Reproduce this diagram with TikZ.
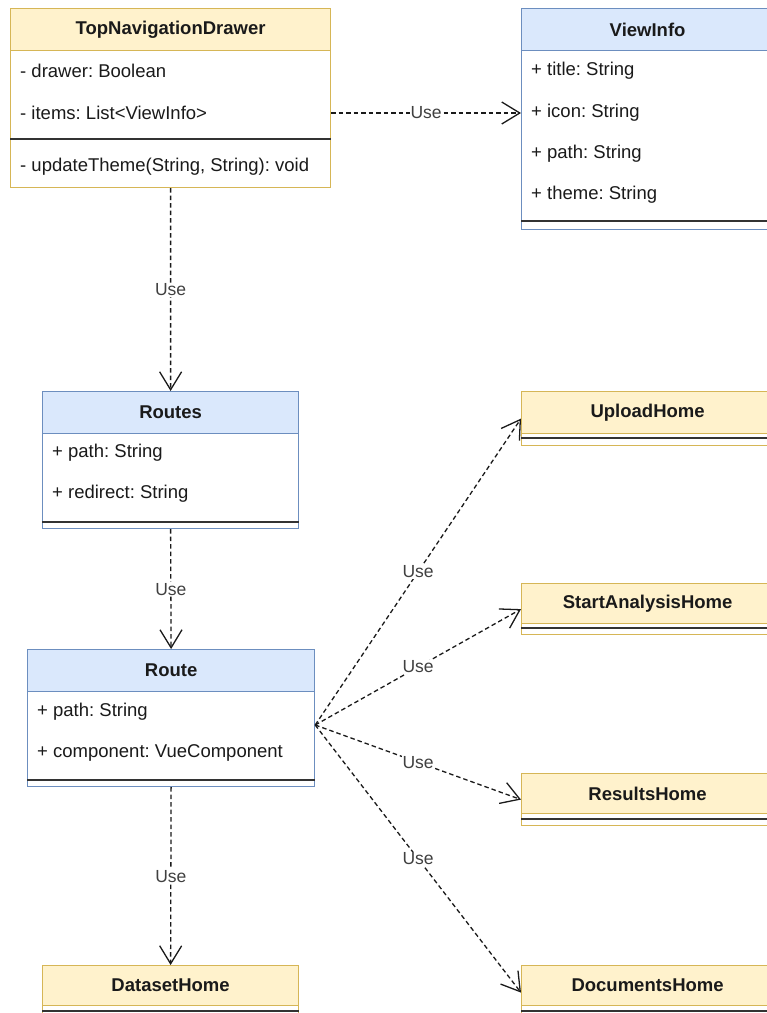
\documentclass[tikz,border=0pt]{standalone}
\usepackage{fontspec}
\setmainfont{Liberation Sans}
\usetikzlibrary{arrows.meta}

\definecolor{ylwfill}{HTML}{FFF2CC}
\definecolor{ylwline}{HTML}{D6B656}
\definecolor{blufill}{HTML}{DAE8FC}
\definecolor{bluline}{HTML}{6C8EBF}
\definecolor{ink}{HTML}{1A1A1A}

\tikzset{
  every node/.style={font=\fontsize{18.5bp}{22bp}\selectfont\frenchspacing, text=ink},
  classbody/.style={draw, fill=white, line width=1.2bp, rectangle, anchor=north west, inner sep=0pt},
  yellowbox/.style={draw=ylwline},
  bluebox/.style={draw=bluline},
  header/.style={rectangle, anchor=north west, inner sep=0pt, minimum height=42bp,
    font=\fontsize{18.5bp}{22bp}\selectfont\bfseries, line width=1.2bp},
  yhead/.style={header, draw=ylwline, fill=ylwfill},
  bhead/.style={header, draw=bluline, fill=blufill},
  member/.style={anchor=west, inner sep=0pt},
  divider/.style={line width=1.6bp, draw=black!80},
  uses/.style={draw=ink, line width=1.3bp, dash pattern=on 4.5bp off 3bp,
    -{Straight Barb[length=18bp,width=22bp,line width=1.3bp]}},
  uselabel/.style={fill=white, inner sep=1bp, font=\fontsize{17.5bp}{21bp}\selectfont, text=black!75},
}

\begin{document}
\begin{tikzpicture}[x=1bp,y=-1bp]
\useasboundingbox (0,0) rectangle (767,1013);
\fill[white] (0,0) rectangle (767,1013);

% TopNavigationDrawer
\node[classbody, yellowbox, minimum width=320bp, minimum height=179bp] (tnd) at (10,8) {};
\node[yhead, minimum width=320bp] (tndh) at (10,8) {TopNavigationDrawer};
\node[member] (tnd1) at (20,71) {- drawer: Boolean};
\node[member] (tnd2) at (20,113) {- items: List<ViewInfo>};
\coordinate (tndsep) at (0,139);
\draw[divider] (tnd.west |- tndsep) -- (tnd.east |- tndsep);
\node[member] (tnd3) at (20,167) {- updateTheme(String, String): void};

% ViewInfo (runs past the right edge of the page)
\node[classbody, bluebox, minimum width=252bp, minimum height=221bp] (vi) at (521,8) {};
\node[bhead, minimum width=252bp] (vih) at (521,8) {ViewInfo};
\node[member] (vi1) at (531,71) {+ title: String};
\node[member] (vi2) at (531,113) {+ icon: String};
\node[member] (vi3) at (531,154) {+ path: String};
\node[member] (vi4) at (531,195) {+ theme: String};
\coordinate (visep) at (0,221);
\draw[divider] (vi.west |- visep) -- (vi.east |- visep);

% Routes
\node[classbody, bluebox, minimum width=256bp, minimum height=137bp] (routes) at (42,391) {};
\node[bhead, minimum width=256bp] (routesh) at (42,391) {Routes};
\node[member] (routes1) at (52,453) {+ path: String};
\node[member] (routes2) at (52,494) {+ redirect: String};
\coordinate (routessep) at (0,522);
\draw[divider] (routes.west |- routessep) -- (routes.east |- routessep);

% Route
\node[classbody, bluebox, minimum width=287bp, minimum height=137bp] (route) at (27,649) {};
\node[bhead, minimum width=287bp] (routeh) at (27,649) {Route};
\node[member] (route1) at (37,712) {+ path: String};
\node[member] (route2) at (37,753) {+ component: VueComponent};
\coordinate (routesep) at (0,780);
\draw[divider] (route.west |- routesep) -- (route.east |- routesep);

% DatasetHome
\node[classbody, yellowbox, minimum width=256bp, minimum height=54bp] (dataset) at (42,965) {};
\node[yhead, minimum width=256bp, minimum height=40bp] (dataseth) at (42,965) {DatasetHome};
\coordinate (datasetsep) at (0,1011);
\draw[divider] (dataset.west |- datasetsep) -- (dataset.east |- datasetsep);

% Views on the right
\node[classbody, yellowbox, minimum width=252bp, minimum height=54bp] (up) at (521,391) {};
\node[yhead, minimum width=252bp] (uph) at (521,391) {UploadHome};
\coordinate (upsep) at (0,438);
\draw[divider] (up.west |- upsep) -- (up.east |- upsep);

\node[classbody, yellowbox, minimum width=252bp, minimum height=51bp] (sa) at (521,583) {};
\node[yhead, minimum width=252bp, minimum height=40bp] (sah) at (521,583) {StartAnalysisHome};
\coordinate (sasep) at (0,628);
\draw[divider] (sa.west |- sasep) -- (sa.east |- sasep);

\node[classbody, yellowbox, minimum width=252bp, minimum height=52bp] (res) at (521,773) {};
\node[yhead, minimum width=252bp, minimum height=40bp] (resh) at (521,773) {ResultsHome};
\coordinate (ressep) at (0,819);
\draw[divider] (res.west |- ressep) -- (res.east |- ressep);

\node[classbody, yellowbox, minimum width=252bp, minimum height=54bp] (doc) at (521,965) {};
\node[yhead, minimum width=252bp, minimum height=40bp] (doch) at (521,965) {DocumentsHome};
\coordinate (docsep) at (0,1011);
\draw[divider] (doc.west |- docsep) -- (doc.east |- docsep);

% Dependencies
\draw[uses] (tnd.east |- tnd2) -- node[uselabel] {Use} (vi.west |- tnd2);
\draw[uses] (tnd.south) -- node[uselabel] {Use} (routes.north);
\draw[uses] (routes.south) -- node[uselabel] {Use} (route.north);
\draw[uses] (route.south) -- node[uselabel] {Use} (dataset.north);

\coordinate (fany) at (0,725);
\coordinate (fan) at (route.east |- fany);
\draw[uses] (fan) -- node[uselabel] {Use} (up.west);
\draw[uses] (fan) -- node[uselabel] {Use} (sa.west);
\draw[uses] (fan) -- node[uselabel] {Use} (res.west);
\draw[uses] (fan) -- node[uselabel] {Use} (doc.west);
\end{tikzpicture}
\end{document}
